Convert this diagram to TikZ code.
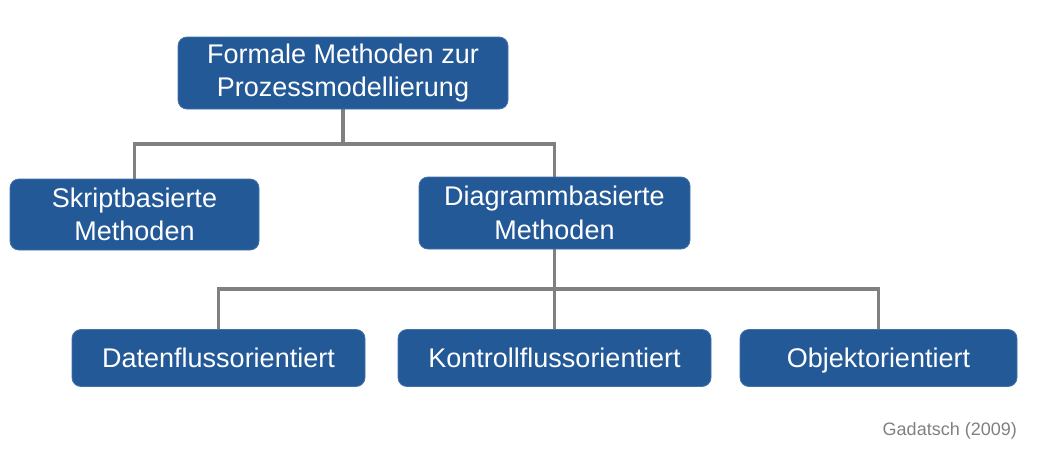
\documentclass[tikz,border=0pt]{standalone}
\usepackage{fontspec}
\setmainfont{Liberation Sans}
\usetikzlibrary{backgrounds}
\definecolor{boxblue}{RGB}{36,89,151}
\definecolor{linegray}{RGB}{128,128,128}
\definecolor{srcgray}{RGB}{128,128,128}
\tikzset{
  mbox/.style={draw=boxblue!85!white, line width=0.8pt, fill=boxblue, rounded corners=9pt,
    text=white, align=center, inner sep=0pt,
    font=\fontsize{27}{33.5}\selectfont},
  onebox/.style={mbox, text height=20pt, text depth=1pt},
  conn/.style={draw=linegray, line width=3.6pt},
}
\begin{document}
\begin{tikzpicture}[x=1pt,y=-1pt]
\useasboundingbox (0,0) rectangle (1054,453);
\node[mbox, minimum width=330pt, minimum height=72pt] (top) at (343,73) {Formale Methoden zur\\Prozessmodellierung};
\node[mbox, minimum width=249pt, minimum height=71pt] (skript) at (134.5,214.5) {Skriptbasierte\\Methoden};
\node[mbox, minimum width=271pt, minimum height=72pt] (diag) at (554.5,213) {Diagrammbasierte\\Methoden};
\node[onebox, minimum width=293pt, minimum height=57pt] (daten) at (218.5,358) {Datenflussorientiert};
\node[onebox, minimum width=313pt, minimum height=57pt] (kontroll) at (554.5,358) {Kontrollflussorientiert};
\node[onebox, minimum width=277pt, minimum height=57pt] (objekt) at (878.5,358) {Objektorientiert};
\coordinate (j1) at (343,144);
\coordinate (j2) at (554.5,289);
\begin{scope}[on background layer]
\draw[conn] (top.south) -- (j1);
\draw[conn] (j1) -| (skript.north);
\draw[conn] (j1) -| (diag.north);
\draw[conn] (diag.south) -- (kontroll.north);
\draw[conn] (j2) -| (daten.north);
\draw[conn] (j2) -| (objekt.north);
\end{scope}
\node[anchor=base east, inner sep=0pt, text=srcgray, font=\fontsize{18}{22}\selectfont] (src) at (1017,435) {Gadatsch (2009)};
\end{tikzpicture}
\end{document}
